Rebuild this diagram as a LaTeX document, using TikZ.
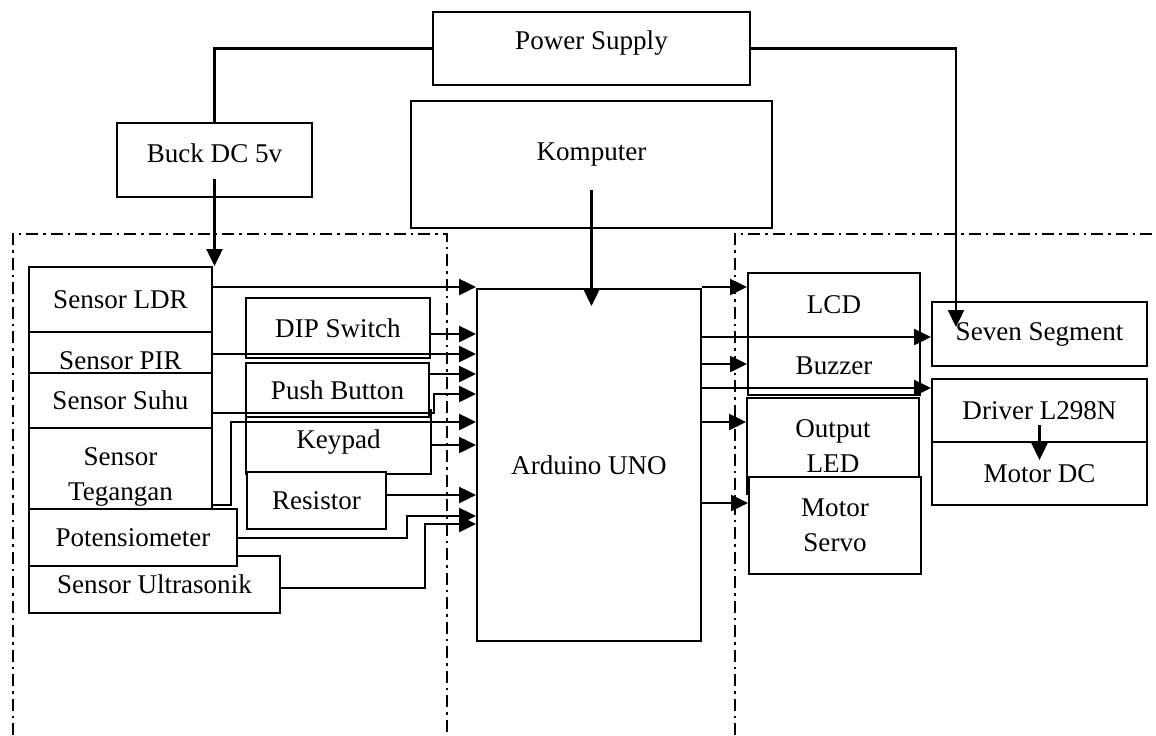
\documentclass[tikz,border=0pt]{standalone}
\usepackage{fontspec}
\setmainfont{Liberation Serif}
\usetikzlibrary{arrows.meta}

\begin{document}
\begin{tikzpicture}[x=0.02cm, y=-0.02cm,
  bx/.style 2 args={rectangle, draw, fill=white, line width=1.1pt,
                    minimum width=#1, minimum height=#2, align=center, inner sep=2pt},
  arr/.style={-{Triangle[length=0.34cm, width=0.32cm]}, line width=1.3pt},
  frame/.style={line width=0.8pt, dash pattern=on 0.24cm off 0.1cm on 0.05cm off 0.1cm},
  font=\fontsize{15.4}{19.9}\selectfont]

\useasboundingbox (0,0) rectangle (1156,735);

% bingkai
\draw[frame] (13,735) -- (13,234) -- (447,234) -- (447,735);
\draw[frame] (735,735) -- (735,234) -- (1156,234);

% catu daya, komputer, arduino
\node[bx={6.34cm}{1.46cm}, text depth=0.35cm] (ps) at (591.5,48.5) {Power Supply};
\node[bx={3.9cm}{1.48cm}, text depth=0.28cm] (buck) at (214.5,160) {Buck DC 5v};
\node[bx={7.22cm}{2.54cm}, text depth=0.51cm] (komp) at (591.5,164.5) {Komputer};
\node[bx={4.48cm}{7.04cm}] (ardu) at (589,465) {Arduino UNO};

% sensor
\node[bx={3.66cm}{1.3cm}] (ldr) at (120.5,299.5) {Sensor LDR};
\node[bx={3.66cm}{1.16cm}] (pir) at (120.5,361) {Sensor PIR};
\node[bx={3.66cm}{1.1cm}] (suhu) at (120.5,400.5) {Sensor Suhu};
\node[bx={3.66cm}{1.96cm}] (teg) at (120.5,477) {Sensor\\ Tegangan};
\node[bx={5.02cm}{1.14cm}] (ultra) at (154.5,584.5) {Sensor Ultrasonik};
\node[bx={4.16cm}{1.14cm}] (pot) at (133,537.5) {Potensiometer};

% input lain
\node[bx={3.68cm}{1.2cm}] (dip) at (338,328) {DIP Switch};
\node[bx={3.7cm}{1.28cm}] (keypad) at (338.5,442) {Keypad};
\node[bx={3.66cm}{1.08cm}] (push) at (337.5,390) {Push Button};
\node[bx={2.78cm}{1.14cm}] (res) at (316.5,500.5) {Resistor};

% output
\node[bx={3.44cm}{1.28cm}] (lcd) at (834,305) {LCD};
\node[bx={3.44cm}{1.16cm}] (buz) at (834,366) {Buzzer};
\node[bx={3.44cm}{1.92cm}] (oled) at (833,446) {Output\\ LED};
\node[bx={3.44cm}{1.94cm}] (servo) at (835,525.5) {Motor\\ Servo};
\node[bx={4.3cm}{1.28cm}] (seg) at (1039.5,334) {Seven Segment};
\node[bx={4.3cm}{1.26cm}] (drv) at (1039.5,410.5) {Driver L298N};
\node[bx={4.3cm}{1.26cm}] (mdc) at (1039.5,473.5) {Motor DC};

% jalur daya
\coordinate (segin) at (956,327);
\draw[line width=1.3pt] (ps.west) -| (buck.north);
\draw[arr] ([yshift=0.38cm]buck.south) -- (buck.south |- ldr.north);
\draw[arr] (ps.east) -| (segin);
\draw[arr] (komp.center |- 0,190) -- (komp.center |- 0,306);

% masukan ke arduino
\draw[arr] (ldr.east |- 0,287) -- (ardu.west |- 0,287);
\draw[arr] (dip.east |- 0,334) -- (ardu.west |- 0,334);
\draw[arr] (pir.east |- 0,354) -- (ardu.west |- 0,354);
\draw[arr] (push.east |- 0,374) -- (ardu.west |- 0,374);
\draw[arr] (suhu.east |- 0,413) -| (434,394) -- (ardu.west |- 0,394);
\draw[arr] (teg.east |- 0,505) -| (231,422) -- (ardu.west |- 0,422);
\draw[arr] (keypad.east |- 0,445) -- (ardu.west |- 0,445);
\draw[arr] (res.east |- 0,495) -- (ardu.west |- 0,495);
\draw[arr] (pot.east |- 0,538) -| (407,516) -- (ardu.west |- 0,516);
\draw[arr] (ultra.east |- 0,588) -| (425,524) -- (ardu.west |- 0,524);

% keluaran dari arduino
\draw[arr] (ardu.east |- 0,287) -- (lcd.west |- 0,287);
\draw[arr] (ardu.east |- 0,337) -- (seg.west |- 0,337);
\draw[arr] (ardu.east |- 0,364) -- (buz.west |- 0,364);
\draw[arr] (ardu.east |- 0,388) -- (drv.west |- 0,388);
\draw[arr] (ardu.east |- 0,422) -- (oled.west |- 0,422);
\draw[arr] (ardu.east |- 0,503) -- (servo.west |- 0,503);
\draw[arr] (drv.center |- 0,425) -- (drv.center |- 0,460);

\end{tikzpicture}
\end{document}
